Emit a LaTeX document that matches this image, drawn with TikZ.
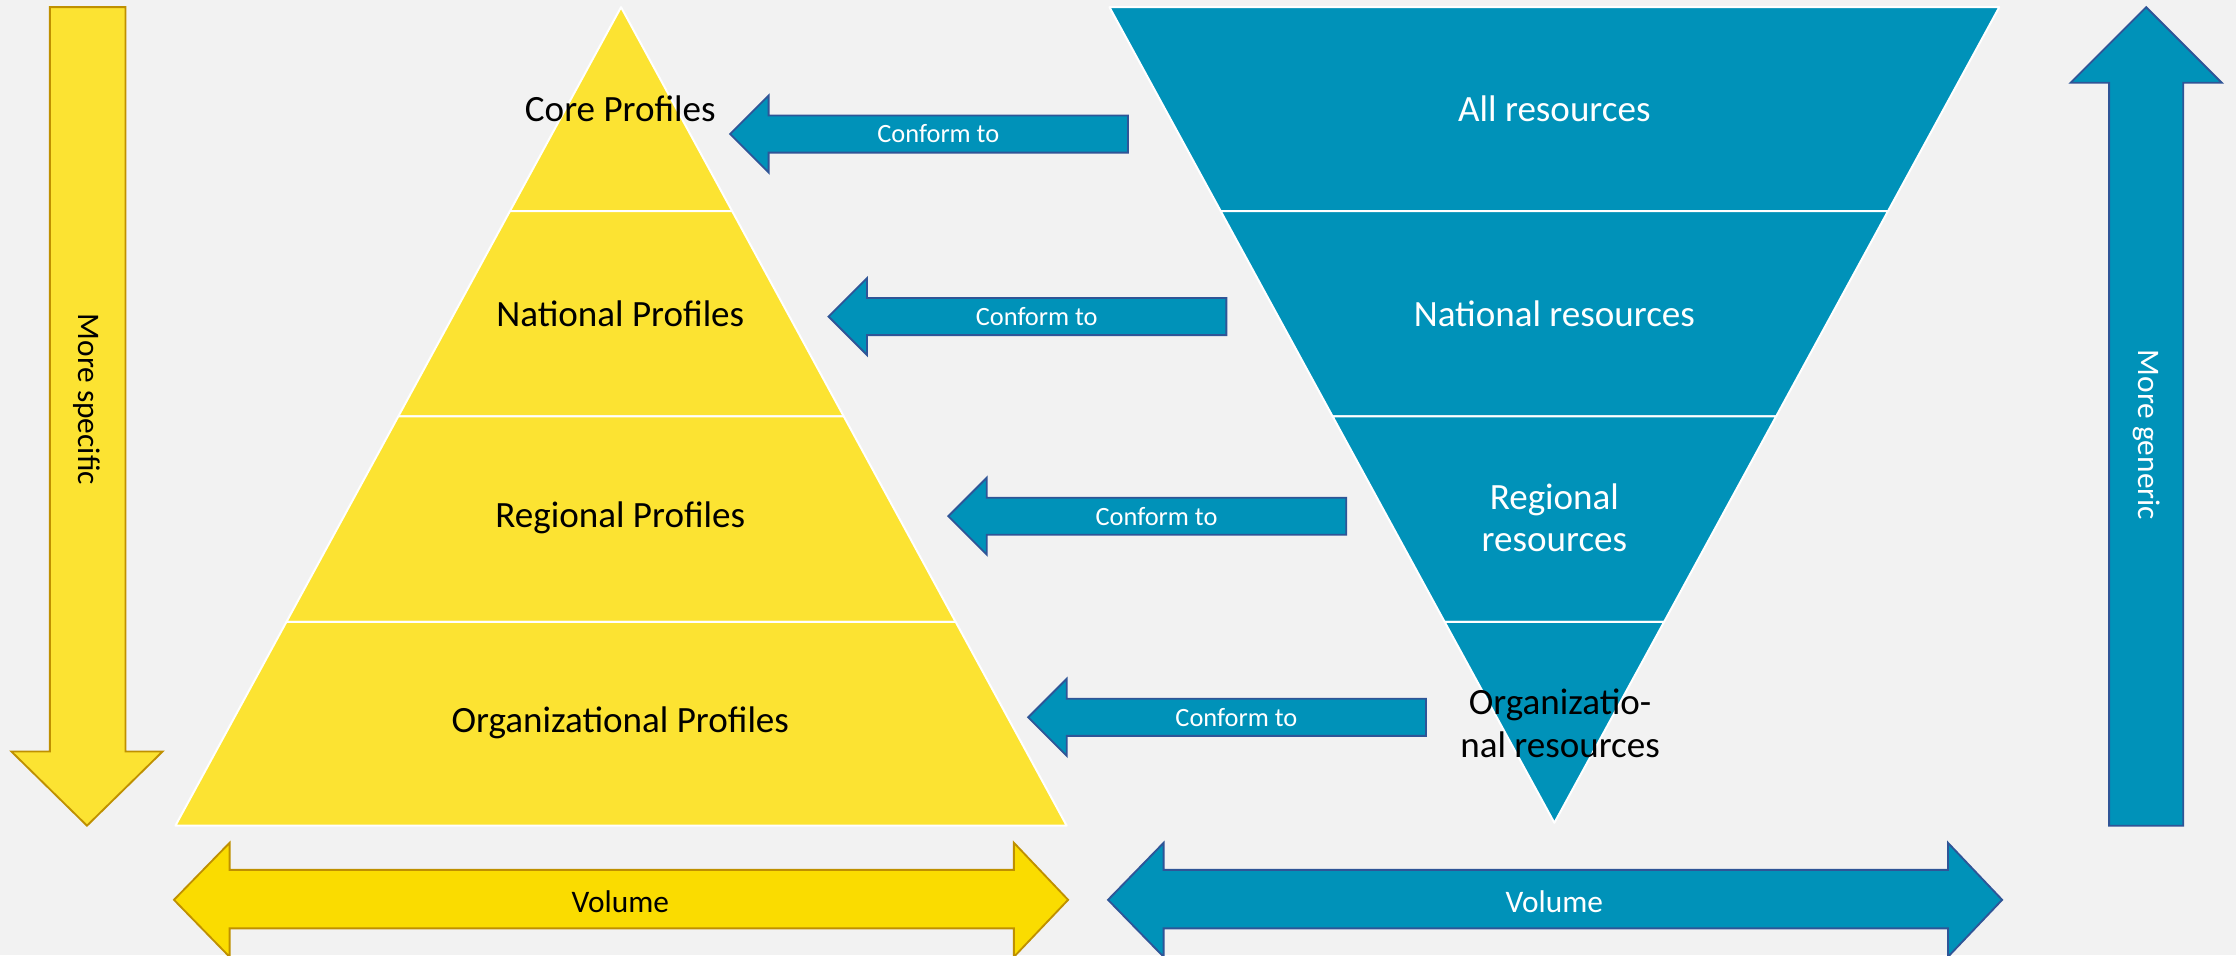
\documentclass[tikz,border=0pt]{standalone}
\usepackage{fontspec}
\setmainfont{Carlito}
\usepackage{tikz}
\usetikzlibrary{positioning}
\definecolor{profyellow}{RGB}{252,227,50}
\definecolor{volyellow}{RGB}{250,220,0}
\definecolor{goldline}{RGB}{191,144,0}
\definecolor{resblue}{RGB}{0,146,185}
\definecolor{navyline}{RGB}{47,85,151}
\definecolor{paper}{RGB}{242,242,242}

\begin{document}
\begin{tikzpicture}[x=1pt,y=-1pt,
          layer/.style={fill=profyellow,draw=white,line width=1.4pt,line join=round},
          reslayer/.style={fill=resblue,draw=white,line width=1.4pt,line join=round},
          yarrow/.style={fill=profyellow,draw=goldline,line width=1.3pt},
          barrow/.style={fill=resblue,draw=navyline,line width=1.3pt},
          lbl/.style={font=\fontsize{26}{30}\selectfont,align=center},
          side/.style={font=\fontsize{22}{26}\selectfont,rotate=-90},
          conform/.style={text=white,font=\fontsize{18.5}{22}\selectfont}]
        \fill[paper] (0,0) rectangle (1568,670);
        \useasboundingbox (0,0) rectangle (1568,670);
        % profiles pyramid
        \path[layer] (435.5,5) -- (513.4,148) -- (357.6,148) -- cycle;
        \path[layer] (357.6,148) -- (513.4,148) -- (591.7,292) -- (279.3,292) -- cycle;
        \path[layer] (279.3,292) -- (591.7,292) -- (670.1,436) -- (200.9,436) -- cycle;
        \path[layer] (200.9,436) -- (670.1,436) -- (748,579) -- (123,579) -- cycle;
        \node [lbl] (core)   at (435,76)  {Core Profiles};
        \node [lbl] (nat)    at (435,220) {National Profiles};
        \node [lbl] (reg)    at (435,363) {Regional Profiles};
        \node [lbl] (org)    at (435,507) {Organizational Profiles};
        % resources funnel
        \path[reslayer] (778,5) -- (1402,5) -- (1324,148) -- (856,148) -- cycle;
        \path[reslayer] (856,148) -- (1324,148) -- (1245.5,292) -- (934.5,292) -- cycle;
        \path[reslayer] (934.5,292) -- (1245.5,292) -- (1167,436) -- (1013,436) -- cycle;
        \path[reslayer] (1013,436) -- (1167,436) -- (1090,577) -- cycle;
        \node [lbl,text=white] (allres) at (1090,76)  {All resources};
        \node [lbl,text=white] (natres) at (1090,220) {National resources};
        \node [lbl,text=white] (regres) at (1090,363) {Regional\\resources};
        \node [lbl]            (orgres) at (1094,507) {Organizatio-\\nal resources};
        % conform arrows
        \foreach \tx/\cy [count=\i] in {512/94, 581/222, 665/362, 721/503} {
          \path[barrow] (\tx,\cy) -- ++(27,-27) -- ++(0,14) -- ++(252,0) -- ++(0,26)
                -- ++(-252,0) -- ++(0,14) -- cycle;
          \node [conform] (conf\i) at (\tx+146,\cy) {Conform to};
        }
        % side arrows
        \path[yarrow] (35,5) -- (88,5) -- (88,527) -- (114,527) -- (61,579) -- (8,527)
              -- (35,527) -- cycle;
        \node [side] (specific) at (61,280) {More specific};
        \path[barrow] (1505,5) -- (1558,58) -- (1531,58) -- (1531,579) -- (1479,579)
              -- (1479,58) -- (1452,58) -- cycle;
        \node [side,text=white] (generic) at (1505,305) {More generic};
        % volume arrows
        \path[yarrow,fill=volyellow] (122,631) -- (161,591) -- (161,610) -- (711,610) -- (711,591)
              -- (749,631) -- (711,671) -- (711,651) -- (161,651) -- (161,671) -- cycle;
        \node [side,rotate=90] (vol) at (435,632) {Volume};
        \path[barrow] (777,631) -- (816,591) -- (816,610) -- (1366,610) -- (1366,591)
              -- (1404,631) -- (1366,671) -- (1366,651) -- (816,651) -- (816,671) -- cycle;
        \node [side,rotate=90,text=white] (volres) at (1090,632) {Volume};
\end{tikzpicture}
\end{document}
